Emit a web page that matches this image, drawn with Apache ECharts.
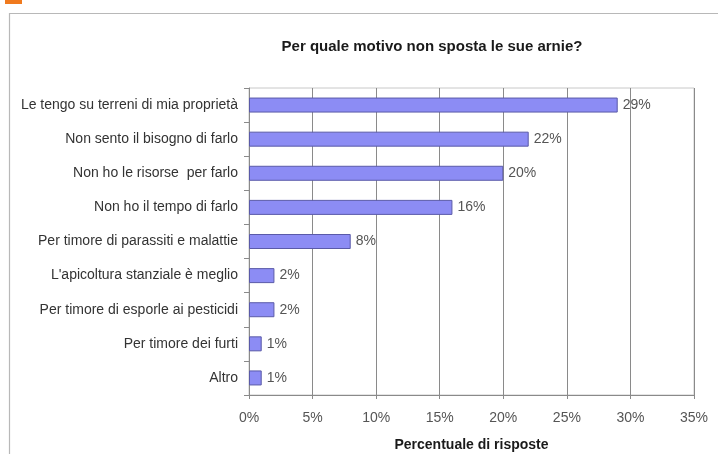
<!DOCTYPE html>
<html>
<head>
<meta charset="utf-8">
<script src="https://cdn.jsdelivr.net/npm/echarts@6/dist/echarts.min.js"></script>
<style>
  html, body { margin: 0; padding: 0; background: #fff; }
  #chart { width: 718px; height: 454px; }
</style>
</head>
<body>
<div id="chart"></div>
<script>
// Reasons given for not moving the hives, share of answers (%)
const categories = [
  'Le tengo su terreni di mia proprietà',
  'Non sento il bisogno di farlo',
  'Non ho le risorse  per farlo',
  'Non ho il tempo di farlo',
  'Per timore di parassiti e malattie',
  "L'apicoltura stanziale è meglio",
  'Per timore di esporle ai pesticidi',
  'Per timore dei furti',
  'Altro'
];
const shares = [29, 22, 20, 16, 8, 2, 2, 1, 1];

const chartTitle = 'Per quale motivo non sposta le sue arnie?';
const axisTitle = 'Percentuale di risposte';
const xMin = 0, xMax = 35, xStep = 5;

const FONT = '"Liberation Sans", Arial, sans-serif';

const chart = echarts.init(document.getElementById('chart'), null, { renderer: 'canvas' });

chart.setOption({
  animation: false,
  backgroundColor: '#ffffff',
  textStyle: { fontFamily: FONT },
  graphic: [
    // orange tab above the frame
    { type: 'rect', left: 5, top: 0, shape: { width: 17, height: 4 }, style: { fill: '#f07a1e' } },
    // outer frame
    { type: 'rect', left: 7, top: 11, shape: { width: 712, height: 441 },
      style: { fill: 'none', stroke: '#b8b8b8', lineWidth: 1.2 } },
    { type: 'text', x: 432, y: 47,
      style: { text: chartTitle, fill: '#1a1a1a', font: 'bold 15px ' + FONT,
               textAlign: 'center', textVerticalAlign: 'middle' } }
  ],
  grid: {
    left: 249, right: 24, top: 88, bottom: 59,
    outerBoundsMode: 'none', containLabel: false,
    show: true, borderColor: '#c8c8c8', borderWidth: 1, backgroundColor: 'transparent'
  },
  xAxis: {
    type: 'value', min: xMin, max: xMax, interval: xStep,
    name: axisTitle, nameLocation: 'middle', nameGap: 43,
    nameTextStyle: { fontSize: 14, fontWeight: 'bold', color: '#1a1a1a', fontFamily: FONT },
    axisLine: { show: true, lineStyle: { color: '#8a8a8a', width: 1 } },
    axisTick: { show: true, length: 4, lineStyle: { color: '#8a8a8a' } },
    axisLabel: { formatter: '{value}%', fontSize: 14, color: '#555', margin: 16, fontFamily: FONT },
    splitLine: { show: true, lineStyle: { color: '#8a8a8a', width: 1 } }
  },
  yAxis: {
    type: 'category', data: categories, inverse: true,
    axisLine: { show: true, lineStyle: { color: '#8a8a8a', width: 1 } },
    axisTick: { show: true, length: 5, lineStyle: { color: '#8a8a8a' } },
    axisLabel: { fontSize: 14, color: '#333', margin: 11, fontFamily: FONT }
  },
  series: [{
    type: 'bar',
    data: shares,
    barWidth: 15,
    itemStyle: { color: '#8c8cf4', borderColor: '#5a5aa8', borderWidth: 1 },
    label: {
      show: true, position: 'right', distance: 5,
      formatter: p => p.value + '%',
      fontSize: 14, color: '#555', fontFamily: FONT
    }
  }]
});
</script>
</body>
</html>
